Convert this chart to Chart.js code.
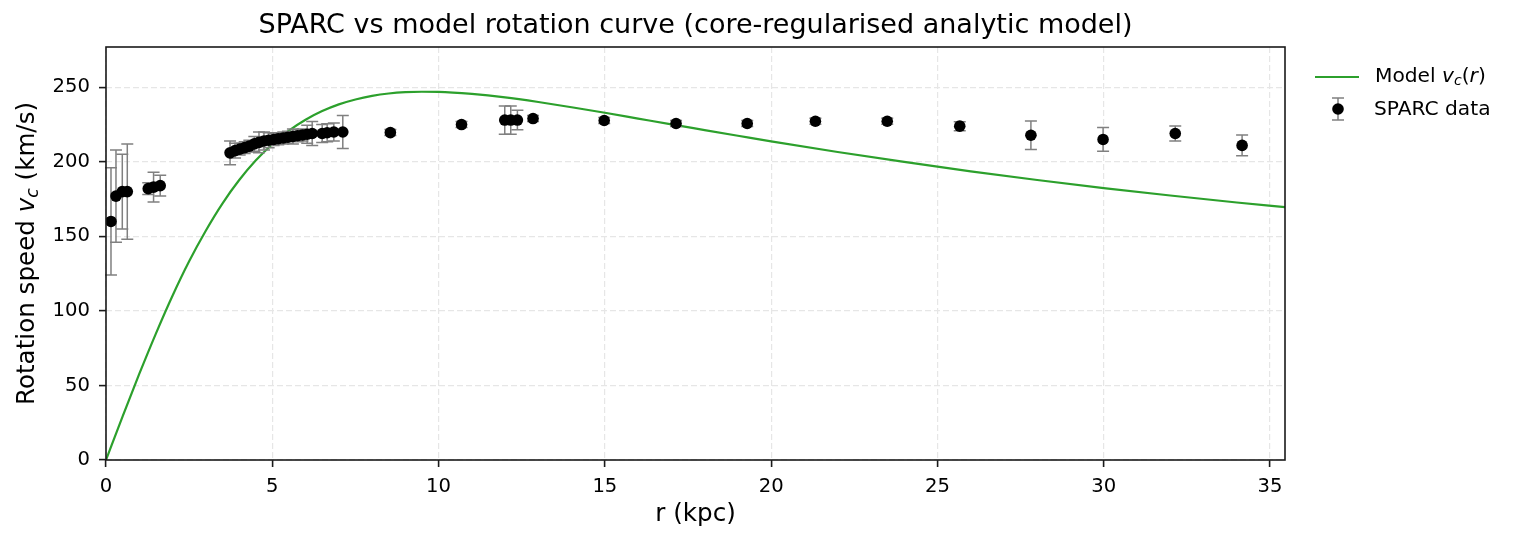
<!DOCTYPE html>
<html>
<head>
<meta charset="utf-8">
<script src="https://cdn.jsdelivr.net/npm/chart.js@4.4.1/dist/chart.umd.min.js"></script>
<style>
  html, body { margin: 0; padding: 0; background: #fff; }
  #wrap { width: 1517px; height: 542px; }
</style>
</head>
<body>
<div id="wrap"><canvas id="rcChart" width="1517" height="542"></canvas></div>
<script>
// SPARC observed points (r in kpc, v in km/s, symmetric error)
const sparcR = [0.15, 0.30, 0.49, 0.64, 1.27, 1.43, 1.63,
  3.73, 3.88, 4.02, 4.17, 4.31, 4.46, 4.60, 4.75, 4.89, 5.04, 5.18, 5.33, 5.47, 5.62, 5.76, 5.91, 6.05, 6.20, 6.50, 6.65, 6.85, 7.12,
  8.55, 10.69, 11.99, 12.17, 12.37, 12.84, 14.98, 17.14, 19.28, 21.33, 23.49, 25.67, 27.81, 29.98, 32.15, 34.16];
const sparcV = [160, 177, 180, 180, 182, 183, 184,
  206, 207.5, 208.5, 209.5, 210.5, 212, 213, 214, 214.5, 215, 215.5, 216, 216.5, 217, 217.5, 218, 218.5, 219, 219, 219.5, 220, 220,
  219.6, 225, 228, 228, 228, 229, 227.7, 225.7, 225.7, 227.2, 227.2, 223.9, 217.8, 215, 219, 211];
const sparcErr = [36, 31, 25, 32, 4, 10, 7,
  8, 5, 4, 4, 4, 5, 7, 6, 5, 4, 4, 4, 4, 5, 4, 4, 6, 8, 6, 6, 6, 11,
  2, 2, 9.5, 9.5, 6.5, 2, 2, 2, 2, 2, 2, 3, 9.5, 8, 5, 7];

// model curve
const modelR = [0, 0.5, 1, 1.5, 2, 2.5, 3, 3.5, 4, 4.5, 5, 5.5, 6, 6.5, 7, 7.5, 8, 8.5, 9, 9.5, 10,
  11, 12, 13, 14, 15, 16, 17, 18, 19, 20, 22, 24, 26, 28, 30, 32, 34, 35.45];
const modelV = [0, 29.2, 57.7, 84.8, 110.2, 133.3, 153.8, 172.0, 187.6, 200.8, 211.8, 220.9, 228.2, 234.0, 238.5, 241.8, 244.2, 245.8, 246.7, 247.0, 246.9,
  245.5, 243.2, 240.1, 236.6, 232.9, 229.0, 225.1, 221.3, 217.5, 213.7, 206.6, 199.9, 193.6, 187.8, 182.4, 177.4, 172.7, 169.6];

const xTicks = [0, 5, 10, 15, 20, 25, 30, 35];
const yTicks = [0, 50, 100, 150, 200, 250];

const FONT = "'DejaVu Sans', sans-serif";
const AXIS = '#1a1a1a';
const GREEN = '#2ca02c';
const ERR = '#808080';

Chart.defaults.font.family = FONT;
Chart.defaults.color = '#000';

// error bars under the points
const errorBars = {
  id: 'errorBars',
  beforeDatasetDraw(chart, args) {
    if (args.index !== 0) return;
    const ctx = chart.ctx, xs = chart.scales.x, ys = chart.scales.y;
    ctx.save();
    ctx.strokeStyle = ERR;
    ctx.lineWidth = 1.5;
    for (let i = 0; i < sparcR.length; i++) {
      const px = xs.getPixelForValue(sparcR[i]);
      const top = ys.getPixelForValue(sparcV[i] + sparcErr[i]);
      const bot = ys.getPixelForValue(sparcV[i] - sparcErr[i]);
      ctx.beginPath();
      ctx.moveTo(px, top); ctx.lineTo(px, bot);
      ctx.moveTo(px - 6, top); ctx.lineTo(px + 6, top);
      ctx.moveTo(px - 6, bot); ctx.lineTo(px + 6, bot);
      ctx.stroke();
    }
    ctx.restore();
  }
};

// draws v_c with italic v and subscript c, returns end x
function drawVc(ctx, x, y, size) {
  ctx.font = 'italic ' + size + 'px ' + FONT;
  ctx.fillText('v', x, y);
  x += ctx.measureText('v').width;
  const sub = size * 0.7;
  ctx.font = 'italic ' + sub + 'px ' + FONT;
  ctx.fillText('c', x, y + size * 0.22);
  x += ctx.measureText('c').width;
  return x;
}
function vcWidth(ctx, size) {
  ctx.font = 'italic ' + size + 'px ' + FONT;
  let w = ctx.measureText('v').width;
  ctx.font = 'italic ' + (size * 0.7) + 'px ' + FONT;
  return w + ctx.measureText('c').width;
}

const decorations = {
  id: 'decorations',
  afterDatasetsDraw(chart) {
    const ctx = chart.ctx, a = chart.chartArea;
    ctx.save();
    ctx.strokeStyle = AXIS;
    ctx.lineWidth = 1.6;
    ctx.strokeRect(a.left, a.top, a.right - a.left, a.bottom - a.top);
    ctx.restore();
  },
  afterDraw(chart) {
    const ctx = chart.ctx, a = chart.chartArea;
    ctx.save();
    ctx.fillStyle = '#000';
    ctx.textBaseline = 'middle';

    // title
    ctx.textAlign = 'center';
    ctx.font = '27px ' + FONT;
    ctx.fillText('SPARC vs model rotation curve (core-regularised analytic model)', (a.left + a.right) / 2, 26);

    // x label
    const ls = 24.6;
    ctx.font = ls + 'px ' + FONT;
    ctx.fillText('r (kpc)', (a.left + a.right) / 2, 515);

    // y label, rotated
    ctx.textAlign = 'left';
    ctx.font = ls + 'px ' + FONT;
    const p1 = 'Rotation speed ', p2 = ' (km/s)';
    const w1 = ctx.measureText(p1).width, w3 = ctx.measureText(p2).width;
    const total = w1 + vcWidth(ctx, ls) + w3;
    ctx.translate(28, (a.top + a.bottom) / 2);
    ctx.rotate(-Math.PI / 2);
    let x = -total / 2;
    ctx.font = ls + 'px ' + FONT;
    ctx.fillText(p1, x, 0);
    x = drawVc(ctx, x + w1, 0, ls);
    ctx.font = ls + 'px ' + FONT;
    ctx.fillText(p2, x, 0);
    ctx.restore();

    // legend
    ctx.save();
    ctx.textBaseline = 'middle';
    ctx.fillStyle = '#000';
    const fs = 20.2;
    ctx.strokeStyle = GREEN;
    ctx.lineWidth = 2;
    ctx.beginPath(); ctx.moveTo(1315, 77); ctx.lineTo(1359, 77); ctx.stroke();
    ctx.font = fs + 'px ' + FONT;
    ctx.fillText('Model ', 1375, 77);
    let lx = 1375 + ctx.measureText('Model ').width;
    lx = drawVc(ctx, lx, 77, fs);
    ctx.font = fs + 'px ' + FONT;
    ctx.fillText('(', lx, 77);
    lx += ctx.measureText('(').width;
    ctx.font = 'italic ' + fs + 'px ' + FONT;
    ctx.fillText('r', lx, 77);
    lx += ctx.measureText('r').width;
    ctx.font = fs + 'px ' + FONT;
    ctx.fillText(')', lx, 77);

    ctx.strokeStyle = ERR;
    ctx.lineWidth = 1.5;
    ctx.beginPath();
    ctx.moveTo(1338, 98); ctx.lineTo(1338, 120);
    ctx.moveTo(1332, 98); ctx.lineTo(1344, 98);
    ctx.moveTo(1332, 120); ctx.lineTo(1344, 120);
    ctx.stroke();
    ctx.fillStyle = '#000';
    ctx.beginPath(); ctx.arc(1338, 109, 5.8, 0, Math.PI * 2); ctx.fill();
    ctx.font = fs + 'px ' + FONT;
    ctx.fillText('SPARC data', 1374, 110);
    ctx.restore();
  }
};

const ctx = document.getElementById('rcChart').getContext('2d');
new Chart(ctx, {
  type: 'scatter',
  data: {
    datasets: [
      {
        label: 'SPARC data',
        data: sparcR.map((r, i) => ({ x: r, y: sparcV[i] })),
        backgroundColor: '#000',
        borderWidth: 0,
        pointRadius: 5.8,
        pointHoverRadius: 5.8
      },
      {
        label: 'Model',
        data: modelR.map((r, i) => ({ x: r, y: modelV[i] })),
        showLine: true,
        borderColor: GREEN,
        borderWidth: 2.2,
        pointRadius: 0,
        cubicInterpolationMode: 'monotone'
      }
    ]
  },
  options: {
    responsive: false,
    animation: false,
    events: [],
    layout: { padding: { top: 47, right: 232, left: 0, bottom: 0 } },
    plugins: {
      legend: { display: false },
      title: { display: false },
      tooltip: { enabled: false }
    },
    scales: {
      x: {
        type: 'linear',
        min: 0,
        max: 35.45,
        afterFit: s => { s.height = 82; },
        afterBuildTicks: s => { s.ticks = xTicks.map(v => ({ value: v })); },
        ticks: { font: { size: 19.6 }, color: '#000', padding: 8, maxRotation: 0 },
        grid: { color: '#e6e6e6', lineWidth: 1.2, tickColor: AXIS, tickWidth: 1.6, tickLength: 7 },
        border: { display: false, dash: [6, 3] }
      },
      y: {
        type: 'linear',
        min: 0,
        max: 277,
        afterFit: s => { s.width = 106; },
        afterBuildTicks: s => { s.ticks = yTicks.map(v => ({ value: v })); },
        ticks: { font: { size: 19.6 }, color: '#000', padding: 9 },
        grid: { color: '#e6e6e6', lineWidth: 1.2, tickColor: AXIS, tickWidth: 1.6, tickLength: 7 },
        border: { display: false, dash: [6, 3] }
      }
    }
  },
  plugins: [errorBars, decorations]
});
</script>
</body>
</html>
